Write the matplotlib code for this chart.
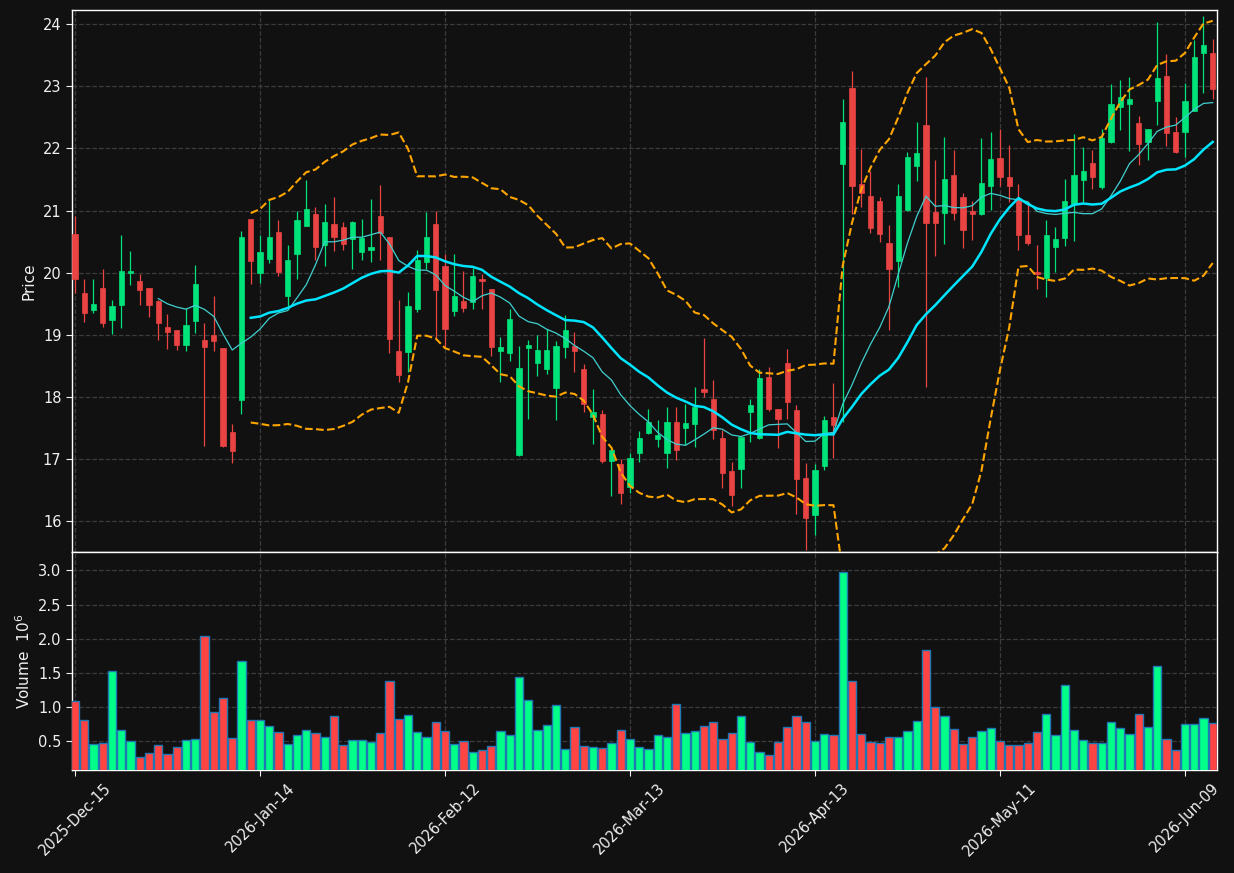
import numpy as np
import pandas as pd
import matplotlib
matplotlib.use("Agg")
import matplotlib.pyplot as plt

# ---------------- data ----------------
opens = [20.62, 19.67, 19.40, 19.75, 19.24, 19.48, 20.00, 19.86, 19.75, 19.55,
         19.13, 19.07, 18.83, 19.22, 18.91, 18.99, 18.78, 17.44, 17.95, 20.86,
         19.99, 20.22, 20.65, 19.62, 20.30, 20.75, 20.94, 20.45, 20.78, 20.73,
         20.54, 20.33, 20.37, 20.91, 20.57, 18.73, 18.72, 19.41, 20.17, 20.78,
         20.10, 19.38, 19.54, 19.53, 19.89, 19.73, 18.74, 18.70, 17.07, 18.78,
         18.54, 18.45, 18.14, 18.80, 18.81, 18.44, 17.67, 17.72, 16.97, 16.91,
         16.54, 17.10, 17.42, 17.32, 17.09, 17.60, 17.49, 17.56, 18.12, 17.97,
         17.34, 16.80, 16.84, 17.75, 17.34, 18.32, 17.81, 18.55, 17.79, 16.69,
         16.09, 16.89, 17.67, 21.75, 22.97, 21.42, 21.23, 21.15, 20.47, 20.18,
         21.01, 21.72, 22.38, 20.97, 20.96, 21.57, 21.21, 20.99, 20.95, 21.40,
         21.84, 21.54, 21.18, 20.60, 20.01, 19.91, 20.41, 20.56, 21.11, 21.49,
         21.76, 21.38, 22.10, 22.66, 22.72, 22.41, 22.11, 22.77, 23.17, 22.26,
         22.27, 22.61, 23.54, 23.54]

highs = [20.91, 19.89, 19.90, 20.05, 19.56, 20.61, 20.34, 19.97, 19.75, 19.56,
         19.33, 19.07, 19.43, 20.13, 19.19, 19.62, 18.78, 17.56, 20.67, 20.86,
         20.60, 21.17, 20.85, 20.45, 21.00, 21.49, 21.05, 21.10, 21.21, 20.81,
         20.83, 20.87, 21.18, 21.41, 20.57, 19.56, 19.68, 20.36, 20.97, 21.00,
         20.30, 20.30, 20.02, 20.08, 19.97, 19.73, 18.97, 19.42, 18.81, 18.91,
         18.99, 19.09, 18.90, 19.31, 19.04, 18.52, 18.13, 17.79, 17.15, 16.99,
         17.10, 17.45, 17.80, 17.63, 17.83, 17.83, 17.88, 18.16, 18.95, 18.27,
         17.47, 16.95, 17.35, 17.97, 18.45, 18.48, 17.81, 18.77, 17.87, 16.94,
         16.91, 17.69, 18.22, 22.80, 23.24, 21.99, 21.63, 21.22, 20.77, 21.42,
         21.95, 22.42, 23.15, 21.82, 22.18, 21.97, 21.28, 21.16, 22.16, 22.26,
         22.31, 22.06, 21.42, 21.14, 20.44, 20.84, 20.73, 21.50, 22.24, 22.03,
         21.97, 22.32, 23.03, 23.10, 23.15, 22.53, 22.31, 24.03, 23.52, 22.50,
         23.05, 23.75, 24.13, 23.77]

lows = [19.67, 19.20, 19.35, 19.12, 19.01, 19.11, 19.80, 19.48, 19.28, 18.92,
        18.77, 18.75, 18.74, 19.02, 17.20, 18.73, 17.19, 16.94, 17.73, 19.82,
        19.84, 20.15, 19.95, 19.46, 19.90, 20.75, 20.20, 20.11, 20.35, 20.37,
        20.05, 20.20, 20.17, 20.20, 18.71, 18.24, 18.40, 19.37, 20.06, 18.94,
        18.80, 19.30, 19.37, 19.41, 19.42, 18.66, 18.23, 18.58, 17.05, 17.64,
        18.34, 18.37, 17.62, 18.63, 18.40, 17.75, 17.24, 16.94, 16.40, 16.27,
        16.45, 16.95, 17.40, 17.19, 16.85, 16.98, 17.22, 17.19, 17.99, 17.32,
        16.53, 16.24, 16.53, 17.27, 17.32, 17.77, 17.18, 17.64, 16.11, 15.54,
        15.78, 16.82, 17.01, 17.60, 20.95, 21.05, 20.63, 20.49, 19.08, 19.76,
        21.00, 21.48, 18.15, 20.27, 20.46, 20.85, 20.39, 20.53, 20.92, 21.01,
        21.39, 21.14, 20.37, 20.44, 19.73, 19.61, 20.01, 20.43, 20.51, 21.13,
        21.35, 21.34, 22.08, 22.29, 21.96, 21.73, 21.81, 22.37, 22.04, 21.93,
        21.86, 22.61, 22.89, 22.79]

closes = [19.90, 19.35, 19.49, 19.19, 19.46, 20.02, 20.02, 19.72, 19.48, 19.19,
          19.05, 18.83, 19.15, 19.81, 18.80, 18.90, 17.20, 17.12, 20.57, 20.19,
          20.33, 20.57, 20.01, 20.20, 20.84, 21.02, 20.41, 20.81, 20.58, 20.46,
          20.81, 20.55, 20.42, 20.63, 18.93, 18.35, 19.47, 20.20, 20.57, 19.72,
          19.09, 19.63, 19.43, 19.94, 19.87, 18.80, 18.80, 19.25, 18.46, 18.83,
          18.75, 18.75, 18.81, 19.07, 18.74, 17.88, 17.75, 16.97, 17.15, 16.45,
          17.01, 17.33, 17.60, 17.38, 17.59, 17.14, 17.57, 17.84, 18.08, 17.47,
          16.77, 16.41, 17.35, 17.87, 18.31, 17.81, 17.65, 17.91, 16.68, 16.04,
          16.82, 17.63, 17.55, 22.42, 21.40, 21.28, 20.72, 20.62, 20.05, 21.23,
          21.86, 21.92, 20.80, 20.80, 21.51, 20.96, 20.69, 20.95, 21.44, 21.83,
          21.54, 21.40, 20.61, 20.48, 19.97, 20.60, 20.54, 21.15, 21.57, 21.63,
          21.54, 22.17, 22.72, 22.82, 22.80, 22.07, 22.31, 23.13, 22.25, 21.95,
          22.77, 23.47, 23.67, 22.96]

volumes = [1.09, 0.81, 0.456, 0.47, 1.525, 0.66, 0.50, 0.265, 0.324, 0.44,
           0.32, 0.41, 0.515, 0.53, 2.04, 0.93, 1.13, 0.544, 1.68, 0.81,
           0.81, 0.72, 0.63, 0.456, 0.59, 0.66, 0.62, 0.56, 0.87, 0.44,
           0.515, 0.515, 0.485, 0.62, 1.38, 0.82, 0.88, 0.63, 0.57, 0.78,
           0.65, 0.456, 0.50, 0.34, 0.37, 0.43, 0.65, 0.59, 1.44, 1.10,
           0.66, 0.735, 1.03, 0.38, 0.71, 0.43, 0.41, 0.40, 0.47, 0.66,
           0.53, 0.41, 0.38, 0.59, 0.56, 1.04, 0.62, 0.65, 0.72, 0.78,
           0.54, 0.62, 0.87, 0.485, 0.34, 0.295, 0.485, 0.71, 0.87, 0.78,
           0.50, 0.60, 0.59, 2.97, 1.38, 0.60, 0.485, 0.47, 0.56, 0.57,
           0.65, 0.79, 1.84, 1.00, 0.87, 0.68, 0.456, 0.57, 0.65, 0.69,
           0.50, 0.44, 0.44, 0.47, 0.63, 0.90, 0.59, 1.32, 0.66, 0.515,
           0.47, 0.47, 0.78, 0.69, 0.60, 0.90, 0.71, 1.60, 0.54, 0.37,
           0.75, 0.75, 0.84, 0.765]

tick_positions = [0, 20, 40, 60, 80, 100, 120]
tick_labels = ['2025-Dec-15', '2026-Jan-14', '2026-Feb-12', '2026-Mar-13',
               '2026-Apr-13', '2026-May-11', '2026-Jun-09']

# ---------------- style ----------------
BG = '#111111'
UP_C = '#00e27a'
DN_C = '#ea4343'
UP_V = '#00ff88'
DN_V = '#ff4444'
TXT = '#f0f0f0'
GRID = '#3c3c3c'

o = np.array(opens); h = np.array(highs); l = np.array(lows); c = np.array(closes)
v = np.array(volumes)
x = np.arange(len(o))
up = c >= o

cs = pd.Series(c)
ma10 = cs.rolling(10).mean()
ma20 = cs.rolling(20).mean()
sd20 = cs.rolling(20).std(ddof=0)
upper = ma20 + 2 * sd20
lower = ma20 - 2 * sd20

fig = plt.figure(figsize=(12.34, 8.73), dpi=100, facecolor=BG)
ax = fig.add_axes([0.0583, 0.3677, 0.9279, 0.6209], facecolor=BG)
axv = fig.add_axes([0.0583, 0.1180, 0.9279, 0.2497], facecolor=BG, sharex=ax)

# candles
ccol = np.where(up, UP_C, DN_C)
ax.vlines(x, l, h, colors=ccol, linewidth=0.9, zorder=2)
bottoms = np.minimum(o, c)
heights = np.maximum(np.abs(c - o), 0.02)
ax.bar(x, heights, bottom=bottoms, width=0.55, color=ccol, edgecolor=ccol,
       linewidth=0.5, zorder=3)

# moving averages and bands
ax.plot(x, ma10, color='#40d0d0', linewidth=0.9, zorder=4)
ax.plot(x, ma20, color='#00e5ff', linewidth=1.8, zorder=4)
ax.plot(x, upper, color='#ffa500', linewidth=1.5, linestyle='--', zorder=4)
ax.plot(x, lower, color='#ffa500', linewidth=1.5, linestyle='--', zorder=4)

# volume
vcol = np.where(up, UP_V, DN_V)
axv.bar(x, v, width=0.88, color=vcol, edgecolor='#1f77b4', linewidth=1.0, zorder=3)

ax.set_xlim(-0.33, 123.46)
ax.set_ylim(15.5, 24.23)
axv.set_ylim(0.08, 3.27)

ax.set_yticks([16, 17, 18, 19, 20, 21, 22, 23, 24])
axv.set_yticks([0.5, 1.0, 1.5, 2.0, 2.5, 3.0])
axv.set_xticks(tick_positions)
axv.set_xticklabels(tick_labels, rotation=45, ha='center')
ax.tick_params(axis='x', labelbottom=False, length=0)

for a in (ax, axv):
    a.grid(True, linestyle='--', color=GRID, linewidth=0.9)
    a.set_axisbelow(True)
    for s in a.spines.values():
        s.set_color('white')
        s.set_linewidth(1.0)
    a.tick_params(colors=TXT, labelcolor=TXT, labelsize=10.5, direction='out', length=4)

ax.set_ylabel('Price', color=TXT, fontsize=11)
axv.set_ylabel('Volume  $10^6$', color=TXT, fontsize=11)
ax.yaxis.set_label_coords(-0.031, 0.5)
axv.yaxis.set_label_coords(-0.034, 0.5)

fig.savefig('out.png', dpi=100, facecolor=BG)
